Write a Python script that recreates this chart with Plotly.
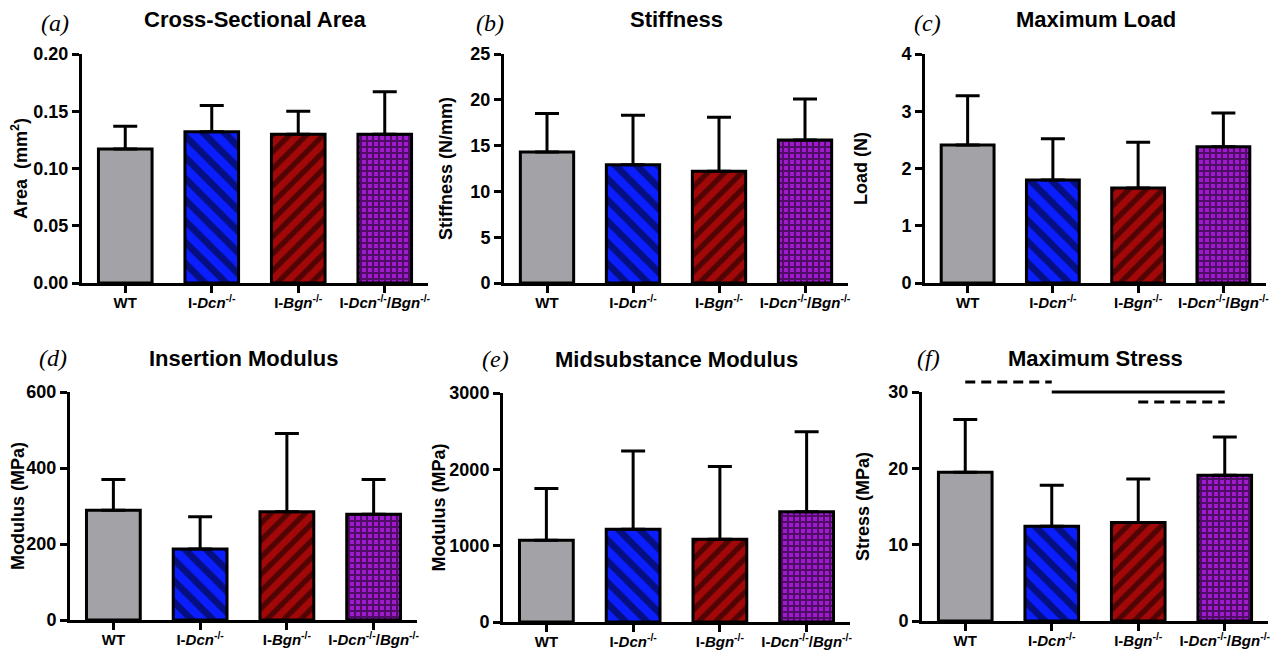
import plotly.graph_objects as go

# ---------------- data ----------------
categories = [
    "WT",
    "I-<i>Dcn</i><sup>-/-</sup>",
    "I-<i>Bgn</i><sup>-/-</sup>",
    "I-<i>Dcn</i><sup>-/-</sup>/<i>Bgn</i><sup>-/-</sup>",
]

area_mean = [0.117, 0.132, 0.130, 0.130]
area_sd = [0.020, 0.023, 0.020, 0.037]

stiff_mean = [14.3, 12.9, 12.2, 15.6]
stiff_sd = [4.2, 5.4, 5.9, 4.5]

load_mean = [2.41, 1.80, 1.66, 2.38]
load_sd = [0.86, 0.72, 0.80, 0.59]

ins_mod_mean = [289, 187, 285, 278]
ins_mod_sd = [81, 85, 206, 92]

mid_mod_mean = [1072, 1216, 1085, 1443]
mid_mod_sd = [677, 1023, 953, 1050]

stress_mean = [19.5, 12.4, 12.9, 19.1]
stress_sd = [6.9, 5.4, 5.7, 5.0]

panel_letters = ["(a)", "(b)", "(c)", "(d)", "(e)", "(f)"]
panel_titles = ["Cross-Sectional Area", "Stiffness", "Maximum Load",
                "Insertion Modulus", "Midsubstance Modulus", "Maximum Stress"]
y_titles = ["Area\u00a0 (mm<sup>2</sup>)", "Stiffness (N/mm)", "Load (N)",
            "Modulus (MPa)", "Modulus (MPa)", "Stress (MPa)"]
y_max = [0.20, 25, 4, 600, 3000, 30]
y_dtick = [0.05, 5, 1, 200, 1000, 10]
y_format = [".2f", "", "", "", "", ""]

# significance bars in panel (f): from category index -> to category index at level
sig_from = [0, 1, 2]
sig_to = [1, 3, 3]
sig_level = [31.3, 30.0, 28.7]
sig_dashed = [True, False, True]

# ---------------- styling ----------------
PAGE_OFF = 8              # default <body> margin of the written page
W, H = 1278 - PAGE_OFF, 651 - PAGE_OFF
FONT = "Liberation Sans"
SERIF = "Liberation Serif"

bar_colors = ["#A2A2A7", "#0A1EFF", "#A30808", "#9E1ACC"]
bar_patterns = [
    dict(shape=""),
    dict(shape="\\", fgcolor="black", size=15, solidity=0.45),
    dict(shape="/", fgcolor="black", size=12, solidity=0.45),
    dict(shape="+", fgcolor="black", size=6, solidity=0.55),
]

# plot area boxes in window pixels: (left, right, top, bottom)
boxes = [
    (82, 428, 54, 283),
    (504, 848, 54, 283),
    (925, 1266, 54, 283),
    (70, 417, 392, 620),
    (503, 850, 393, 622),
    (922, 1268, 392, 621),
]
title_standoff = [5, 14, 30, 0, 0, 15]
letter_shift = [-27, -14, 2, -17, -7, 6]
letter_lift = [31, 31, 31, 34, 34, 34]

means = [area_mean, stiff_mean, load_mean, ins_mod_mean, mid_mod_mean, stress_mean]
sds = [area_sd, stiff_sd, load_sd, ins_mod_sd, mid_mod_sd, stress_sd]

fig = go.Figure()
annotations = []
shapes = []

for p in range(6):
    n = p + 1
    xa = "x" if n == 1 else f"x{n}"
    ya = "y" if n == 1 else f"y{n}"
    for i, cat in enumerate(categories):
        fig.add_trace(go.Bar(
            x=[cat], y=[means[p][i]],
            xaxis=xa, yaxis=ya,
            width=0.62,
            marker=dict(color=bar_colors[i], line=dict(color="black", width=3),
                        pattern=bar_patterns[i]),
            error_y=dict(type="data", symmetric=False, array=[sds[p][i]],
                         arrayminus=[0], color="black", thickness=3, width=12),
            showlegend=False,
        ))
    l, r, t, b = [v - PAGE_OFF for v in boxes[p]]
    axis_common = dict(showline=True, linecolor="black", linewidth=3,
                       ticks="outside", ticklen=7, tickwidth=3, tickcolor="black",
                       showgrid=False, zeroline=False, automargin=False)
    fig.layout[("xaxis" if n == 1 else f"xaxis{n}")] = dict(
        domain=[l / W, r / W], anchor=ya, type="category",
        categoryorder="array", categoryarray=categories,
        range=[-0.5, 3.5], ticklabelstandoff=-3,
        tickfont=dict(family=FONT, size=15, color="black", weight="bold"),
        **axis_common)
    fig.layout[("yaxis" if n == 1 else f"yaxis{n}")] = dict(
        domain=[1 - b / H, 1 - t / H], anchor=xa,
        range=[0, y_max[p]], dtick=y_dtick[p], tick0=0, tickformat=y_format[p],
        tickfont=dict(family=FONT, size=18, color="black", weight="bold"),
        title=dict(text=y_titles[p], standoff=title_standoff[p],
                   font=dict(family=FONT, size=18, color="black", weight="bold")),
        **axis_common)
    annotations.append(dict(
        text=panel_titles[p], xref=f"{xa} domain", yref=f"{ya} domain",
        x=0.5, y=1, yshift=34, xanchor="center", yanchor="middle", showarrow=False,
        font=dict(family=FONT, size=22, color="black", weight="bold")))
    annotations.append(dict(
        text=f"<i>{panel_letters[p]}</i>", xref=f"{xa} domain", yref=f"{ya} domain",
        x=0, y=1, xshift=letter_shift[p], yshift=letter_lift[p],
        xanchor="center", yanchor="middle", borderpad=0,
        showarrow=False, font=dict(family=SERIF, size=24, color="black")))

# significance bars on panel (f)
for k in range(len(sig_from)):
    shapes.append(dict(
        type="line", xref="x6", yref="y6 domain",
        x0=sig_from[k], x1=sig_to[k],
        y0=sig_level[k] / y_max[5], y1=sig_level[k] / y_max[5],
        line=dict(color="black", width=3, dash="10px,6px" if sig_dashed[k] else "solid")))

fig.update_layout(
    width=W, height=H,
    margin=dict(l=0, r=0, t=0, b=0),
    paper_bgcolor="white", plot_bgcolor="white",
    barmode="overlay",
    annotations=annotations, shapes=shapes,
    font=dict(family=FONT, color="black"),
)

fig.write_html("out.html")
